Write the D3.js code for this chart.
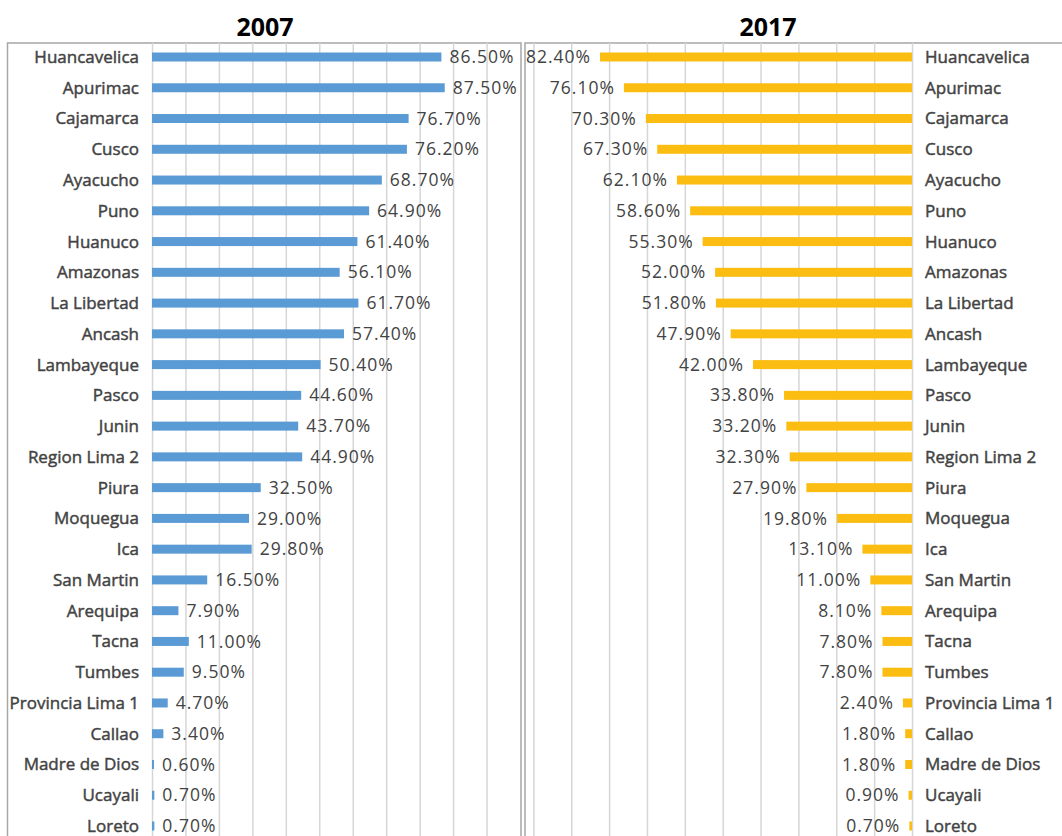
<!DOCTYPE html>
<html>
<head>
<meta charset="utf-8">
<script src="https://cdn.jsdelivr.net/npm/d3@7"></script>
<style>
  body { margin: 0; background: #fff; }
  svg { display: block; }
</style>
</head>
<body>
<script>
const regions = ['Huancavelica', 'Apurimac', 'Cajamarca', 'Cusco', 'Ayacucho', 'Puno',
  'Huanuco', 'Amazonas', 'La Libertad', 'Ancash', 'Lambayeque', 'Pasco', 'Junin',
  'Region Lima 2', 'Piura', 'Moquegua', 'Ica', 'San Martin', 'Arequipa', 'Tacna',
  'Tumbes', 'Provincia Lima 1', 'Callao', 'Madre de Dios', 'Ucayali', 'Loreto']

const values2007 = [86.5, 87.5, 76.7, 76.2, 68.7, 64.9, 61.4, 56.1, 61.7, 57.4, 50.4, 44.6, 43.7,
  44.9, 32.5, 29.0, 29.8, 16.5, 7.9, 11.0, 9.5, 4.7, 3.4, 0.6, 0.7, 0.7]

const values2017 = [82.4, 76.1, 70.3, 67.3, 62.1, 58.6, 55.3, 52.0, 51.8, 47.9, 42.0, 33.8, 33.2,
  32.3, 27.9, 19.8, 13.1, 11.0, 8.1, 7.8, 7.8, 2.4, 1.8, 1.8, 0.9, 0.7]

const gridTicks = [0, 10, 20, 30, 40, 50, 60, 70, 80, 90, 100]
const titles = ['2007', '2017']

const width = 1062
const height = 836
const font = '"Open Sans", "DejaVu Sans", sans-serif'
const textColor = '#434343'

const svg = d3.select('body')
  .append('svg')
  .attr('width', width)
  .attr('height', height)

const y = d3.scalePoint()
  .domain(regions)
  .range([57, 826])

const barH = 9
const panelTop = 43

// Left panel (2007), bars grow right
const xL = d3.scaleLinear().domain([0, 110]).range([152, 520])
// Right panel (2017), bars grow left
const xR = d3.scaleLinear().domain([0, 100]).range([912, 533.4])

function grid(x) {
  const g = svg.append('g')
    .attr('transform', `translate(0,${height})`)
    .call(d3.axisBottom(x).tickValues(gridTicks).tickSize(-(height - panelTop)).tickFormat(''))
  g.select('.domain').remove()
  g.selectAll('.tick line').attr('stroke', '#d6d6d6').attr('stroke-width', 1.5)
}

// panel frames
svg.append('rect')
  .attr('x', 7.5).attr('y', panelTop)
  .attr('width', 513.5).attr('height', height)
  .attr('fill', '#fff').attr('stroke', '#a6a6a6').attr('stroke-width', 1.5)
svg.append('rect')
  .attr('x', 525).attr('y', panelTop)
  .attr('width', 560).attr('height', height)
  .attr('fill', '#fff').attr('stroke', '#a6a6a6').attr('stroke-width', 1.5)

grid(xL)
grid(xR)

// titles
svg.selectAll('text.title')
  .data(titles)
  .join('text')
  .attr('class', 'title')
  .attr('x', (d, i) => i === 0 ? 265 : 768)
  .attr('y', 36)
  .attr('text-anchor', 'middle')
  .attr('font-family', font)
  .attr('font-weight', 'bold')
  .attr('font-size', '25px')
  .attr('fill', '#000')
  .text(d => d)

// 2007 bars
svg.append('g').selectAll('rect')
  .data(regions)
  .join('rect')
  .attr('x', xL(0))
  .attr('y', d => y(d) - barH / 2)
  .attr('width', (d, i) => xL(values2007[i]) - xL(0))
  .attr('height', barH)
  .attr('fill', '#5b9bd5')

svg.append('g').selectAll('text')
  .data(regions)
  .join('text')
  .attr('x', 139)
  .attr('y', d => y(d))
  .attr('dy', '0.35em')
  .attr('text-anchor', 'end')
  .attr('font-family', font)
  .attr('font-size', '17px')
  .attr('fill', textColor)
  .attr('stroke', textColor)
  .attr('stroke-width', 0.45)
  .text(d => d)

svg.append('g').selectAll('text')
  .data(values2007)
  .join('text')
  .attr('x', d => xL(d) + 8)
  .attr('y', (d, i) => y(regions[i]))
  .attr('dy', '0.35em')
  .attr('font-family', font)
  .attr('font-size', '17.5px')
  .attr('letter-spacing', '1px')
  .attr('fill', textColor)
  .text(d => d.toFixed(2) + '%')

// 2017 bars
svg.append('g').selectAll('rect')
  .data(regions)
  .join('rect')
  .attr('x', (d, i) => xR(values2017[i]))
  .attr('y', d => y(d) - barH / 2)
  .attr('width', (d, i) => xR(0) - xR(values2017[i]))
  .attr('height', barH)
  .attr('fill', '#fbbd12')

svg.append('g').selectAll('text')
  .data(regions)
  .join('text')
  .attr('x', 925)
  .attr('y', d => y(d))
  .attr('dy', '0.35em')
  .attr('font-family', font)
  .attr('font-size', '17px')
  .attr('fill', textColor)
  .attr('stroke', textColor)
  .attr('stroke-width', 0.45)
  .text(d => d)

svg.append('g').selectAll('text')
  .data(values2017)
  .join('text')
  .attr('x', d => xR(d) - 9)
  .attr('y', (d, i) => y(regions[i]))
  .attr('dy', '0.35em')
  .attr('text-anchor', 'end')
  .attr('font-family', font)
  .attr('font-size', '17.5px')
  .attr('letter-spacing', '1px')
  .attr('fill', textColor)
  .text(d => d.toFixed(2) + '%')
</script>
</body>
</html>
